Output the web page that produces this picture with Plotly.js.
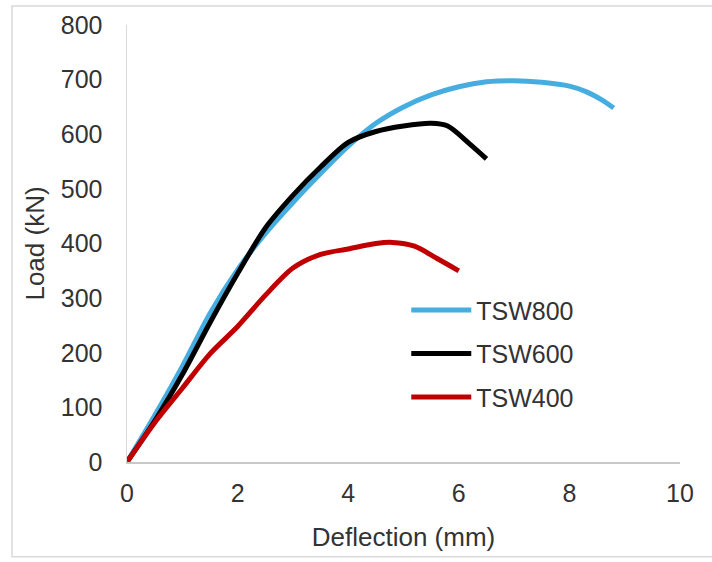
<!DOCTYPE html>
<html>
<head>
<meta charset="utf-8">
<script src="https://cdn.plot.ly/plotly-3.0.1.min.js"></script>
<style>html,body{margin:0;padding:0;background:#fff;}#chart{width:712px;height:562px;}</style>
</head>
<body>
<div id="chart"></div>
<script>
// Deflection (mm) and Load (kN)
const tsw800_x = [0, 0.5, 1.0, 1.5, 2.0, 2.5, 3.0, 3.5, 4.0, 4.5, 5.0, 5.5, 6.0, 6.5, 7.0, 7.5, 8.0, 8.3, 8.6, 8.8];
const tsw800_y = [0, 85, 175, 272, 352, 418, 475, 528, 578, 620, 650, 672, 687, 696, 698, 695, 688, 678, 662, 648];

const tsw600_x = [0, 0.5, 1.0, 1.5, 2.0, 2.5, 3.0, 3.5, 4.0, 4.5, 5.0, 5.5, 5.8, 6.2, 6.5];
const tsw600_y = [0, 75, 160, 255, 345, 428, 488, 540, 585, 605, 615, 620, 615, 582, 555];

const tsw400_x = [0, 0.5, 1.0, 1.5, 2.0, 2.5, 3.0, 3.5, 4.0, 4.5, 4.8, 5.2, 5.6, 6.0];
const tsw400_y = [0, 72, 135, 198, 248, 305, 355, 380, 390, 400, 402, 395, 373, 350];

const seriesNames = ['TSW800', 'TSW600', 'TSW400'];
const seriesColors = ['#46ADE0', '#000000', '#C00000'];

const xTicks = [0, 2, 4, 6, 8, 10];
const yTicks = [0, 100, 200, 300, 400, 500, 600, 700, 800];

const xs = [tsw800_x, tsw600_x, tsw400_x];
const ys = [tsw800_y, tsw600_y, tsw400_y];

const traces = seriesNames.map((n, i) => ({
  type: 'scatter',
  mode: 'lines',
  name: n,
  x: xs[i],
  y: ys[i],
  legendgroup: n,
  line: {color: seriesColors[i], width: 5, shape: 'spline', smoothing: 0.8}
}));

const font = 'Liberation Sans, Arial, sans-serif';
const txt = '#333333';

const layout = {
  width: 712,
  height: 562,
  margin: {l: 127, r: 32, t: 25, b: 100},
  paper_bgcolor: '#ffffff',
  plot_bgcolor: '#ffffff',
  showlegend: true,
  legend: {
    x: 0.505, y: 0.40, xanchor: 'left', yanchor: 'top',
    font: {family: font, size: 25, color: txt},
    bgcolor: 'rgba(255,255,255,0)',
    itemwidth: 60,
    tracegroupgap: 8
  },
  xaxis: {
    range: [0, 10],
    tickvals: xTicks,
    ticktext: xTicks.map(String),
    showgrid: false,
    zeroline: false,
    showline: true,
    linecolor: '#C8C8C8',
    linewidth: 1.5,
    ticks: '',
    ticklabelstandoff: 8,
    tickfont: {family: font, size: 25, color: txt},
    title: {text: 'Deflection (mm)', font: {family: font, size: 26, color: txt}, standoff: 22},
    fixedrange: true
  },
  yaxis: {
    range: [0, 800],
    tickvals: yTicks,
    ticktext: yTicks.map(String),
    showgrid: false,
    zeroline: false,
    showline: true,
    linecolor: '#D9D9D9',
    linewidth: 1.5,
    ticks: '',
    ticklabelstandoff: 18,
    tickfont: {family: font, size: 25, color: txt},
    title: {text: 'Load (kN)', font: {family: font, size: 26, color: txt}, standoff: 8},
    fixedrange: true
  },
  shapes: [{
    type: 'rect', xref: 'paper', yref: 'paper',
    x0: -0.208, x1: 1.08, y0: -0.217, y1: 1.0435,
    line: {color: '#D9D9D9', width: 1.5},
    fillcolor: 'rgba(0,0,0,0)',
    layer: 'below'
  }]
};

Plotly.newPlot('chart', traces, layout, {displayModeBar: false, staticPlot: true});
</script>
</body>
</html>
